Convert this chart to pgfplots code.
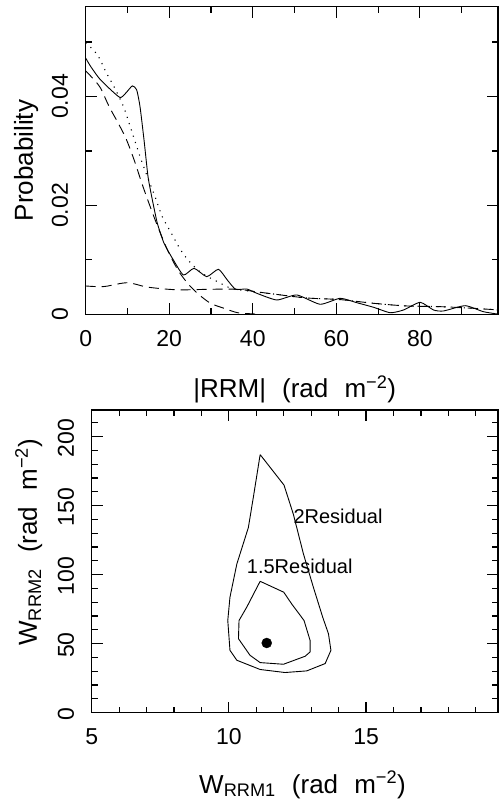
\documentclass[border=0pt]{standalone}
\usepackage{fontspec}
\setmainfont{Liberation Sans}
\usepackage{pgfplots}
\pgfplotsset{compat=1.18}
\newcommand{\gap}{\hspace{0.62em}}
\pgfplotsset{
  pgstyle/.style={
    scale only axis, anchor=south west,
    axis line style={line width=1.2pt},
    every tick/.style={line width=1.2pt, black},
    major tick length=11pt, minor tick length=6pt,
    tick align=inside,
    scaled x ticks=false, scaled y ticks=false,
    /pgf/number format/assume math mode=true,
    tick label style={font=\fontsize{23}{27}\selectfont},
    xticklabel style={anchor=center, yshift=-24pt, inner sep=0pt},
    yticklabel style={anchor=center, xshift=-25.7pt, rotate=90, inner sep=0pt},
  },
}
\begin{document}
\begin{tikzpicture}
\useasboundingbox (0,0) rectangle (499pt,804pt);
% ---------------- top panel ----------------
\begin{axis}[pgstyle,
  at={(85.7pt,489.7pt)}, width=412.3pt, height=307.6pt,
  xmin=0, xmax=98.7, ymin=0, ymax=0.0565,
  xtick={0,20,40,60,80}, xticklabels={0,20,40,60,80},
  minor xtick={10,30,50,70,90},
  ytick={0,0.02,0.04}, yticklabels={0,0.02,0.04},
  minor ytick={0.01,0.03,0.05},
  every axis x label/.style={at={(axis description cs:0.507,0)}, yshift=-83pt, anchor=base, inner sep=0pt, font=\fontsize{26}{30}\selectfont},
  every axis y label/.style={at={(axis description cs:0,0.5)}, xshift=-52.7pt, rotate=90, anchor=base, inner sep=0pt, font=\fontsize{26}{30}\selectfont},
  xlabel={|RRM|\gap(rad\gap m\textsuperscript{−2})},
  ylabel={Probability},
]
% solid: data
\addplot[black, line width=0.9pt, smooth, tension=0.35] coordinates {
(0,0.04705) (1.2,0.04551) (3.19,0.04338) (5.58,0.04154) (8.22,0.03981)
(9.58,0.04062) (11.17,0.04196) (12.2,0.04123) (13.0,0.03816) (13.96,0.03204)
(14.92,0.02529) (15.96,0.02101) (17.15,0.01672) (18.75,0.01305) (20.75,0.01029)
(23.38,0.00722) (25.94,0.00845) (28.98,0.00691) (31.77,0.00827) (33.9,0.0063)
(35.9,0.00459) (38.56,0.00465) (40.96,0.00386) (45.75,0.00263) (50.54,0.00355)
(56.12,0.00184) (60.91,0.00294) (64.9,0.00213) (68.9,0.00129) (72.9,0.00029)
(76.07,0.00079) (80.07,0.0022) (83.26,0.00079) (85.65,0.00061) (90.85,0.00158)
(95.2,0.00048) (99,0)
};
% dotted: total model
\addplot[black, line width=1.1pt, dash pattern=on 1.1pt off 5.5pt, smooth] coordinates {
(0,0.0499) (2.78,0.0477) (4.79,0.0446) (7.19,0.0412) (9.17,0.0379)
(10.78,0.0342) (13.0,0.0290) (14.75,0.0253) (16.6,0.0216) (18.35,0.0179)
(20.5,0.0149) (22.75,0.0118) (25.15,0.0094) (27.93,0.0075) (31.52,0.0060)
(34.73,0.0048) (38.7,0.0043) (44.9,0.00373) (52.9,0.00300) (60.9,0.00270)
(68.9,0.00202) (76.9,0.00153) (84.9,0.0014) (92.8,0.0011) (99,0.00079)
};
% dashed: narrow component
\addplot[black, line width=0.9pt, dash pattern=on 10pt off 6pt, smooth] coordinates {
(0,0.0447) (1.99,0.0431) (3.59,0.0415) (5.58,0.0382) (7.57,0.0354)
(9.58,0.0324) (11.57,0.0284) (13.56,0.0238) (15.57,0.0195) (17.56,0.0155)
(19.95,0.0112) (22.35,0.0078) (24.74,0.0054) (27.14,0.0036) (29.94,0.0020)
(33.13,0.0011) (36.3,0.0003) (39.5,0.0001) (42,0)
};
% dashed: broad component
\addplot[black, line width=0.9pt, dash pattern=on 10pt off 6pt, smooth] coordinates {
(0,0.0052) (4.39,0.0051) (9.97,0.0058) (14.75,0.0050) (21.9,0.0045)
(29.94,0.0046) (36.3,0.0046) (40.3,0.0042) (44.9,0.00373) (52.9,0.00300)
(60.9,0.00270) (68.9,0.00202) (76.9,0.00153) (84.9,0.0014) (92.8,0.0011)
(99,0.00079)
};
\end{axis}
% ---------------- bottom panel ----------------
\begin{axis}[pgstyle,
  at={(91.7pt,91.3pt)}, width=406.3pt, height=302.7pt,
  xmin=5, xmax=19.81, ymin=0, ymax=219.3,
  xtick={5,10,15}, xticklabels={5,10,15},
  minor xtick={6,7,8,9,11,12,13,14,16,17,18,19},
  ytick={0,50,100,150,200}, yticklabels={0,50,100,150,200},
  minor ytick={10,20,30,40,60,70,80,90,110,120,130,140,160,170,180,190,210},
  yticklabel style={xshift=-1.5pt},
  every axis x label/.style={at={(axis description cs:0.519,0)}, yshift=-80.3pt, anchor=base, inner sep=0pt, font=\fontsize{26}{30}\selectfont},
  every axis y label/.style={at={(axis description cs:0,0.563)}, xshift=-54.7pt, rotate=90, anchor=base, inner sep=0pt, font=\fontsize{26}{30}\selectfont},
  xlabel={W\textsubscript{RRM1}\gap(rad\gap m\textsuperscript{−2})},
  ylabel={W\textsubscript{RRM2}\gap(rad\gap m\textsuperscript{−2})},
]
\addplot[black, line width=0.9pt] coordinates {
(11.14,187.0) (12.01,164.9) (12.35,143.8) (12.72,114.9) (13.08,90.9)
(13.42,69.2) (13.63,57.2) (13.72,45.2) (13.51,35.6) (12.84,30.3)
(12.05,29.1) (11.14,31.3) (10.29,38.0) (10.04,45.2) (9.96,66.8)
(10.04,83.7) (10.29,107.7) (10.71,134.1) (10.89,155.8) (11.14,187.0)
};
\addplot[black, line width=0.9pt] coordinates {
(11.14,95.2) (12.0,87.3) (12.29,78.8) (12.74,66.8) (12.96,52.4)
(12.96,44.0) (12.78,40.9) (11.99,35.1) (11.14,36.3) (10.77,41.6)
(10.35,53.6) (10.37,66.8) (10.65,76.4) (11.14,95.2)
};
\addplot[black, only marks, mark=*, mark size=5pt] coordinates {(11.38,50.5)};
\node[anchor=west, inner sep=0pt, font=\fontsize{20}{23}\selectfont] at (axis cs:12.35,142.6) {2Residual};
\node[anchor=west, inner sep=0pt, font=\fontsize{20}{23}\selectfont] at (axis cs:10.65,106.0) {1.5Residual};
\end{axis}
\end{tikzpicture}
\end{document}
